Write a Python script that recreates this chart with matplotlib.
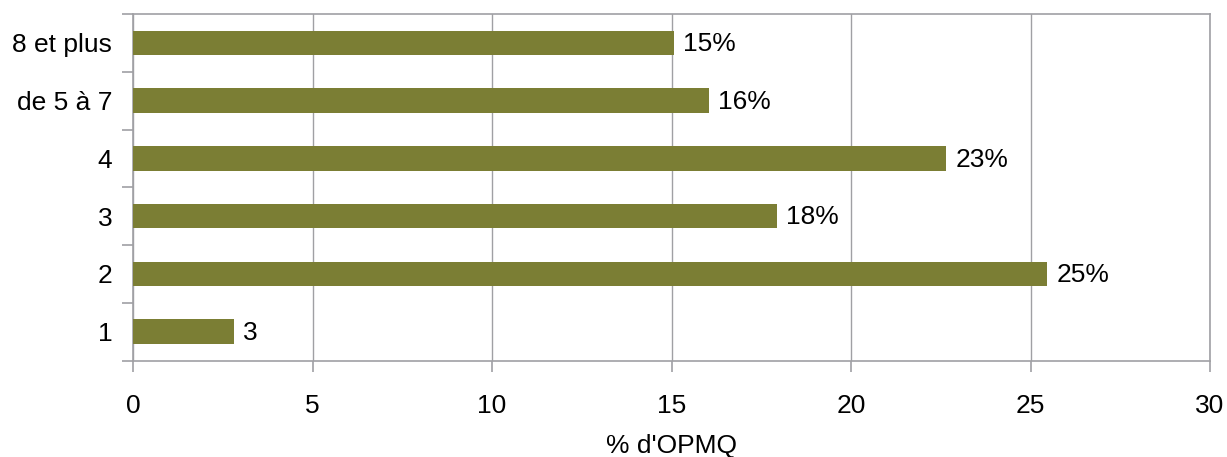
import matplotlib.pyplot as plt
import numpy as np

plt.rcParams["font.family"] = ["Liberation Sans", "DejaVu Sans"]

categories = ["1", "2", "3", "4", "de 5 à 7", "8 et plus"]
values = [2.8, 25.47, 17.95, 22.66, 16.05, 15.08]
bar_labels = ["3", "25%", "18%", "23%", "16%", "15%"]
x_ticks = [0, 5, 10, 15, 20, 25, 30]

BAR_COLOR = "#7b7e34"
AXIS_GRAY = "#a0a0a4"
FS = 19


def main():
    fig = plt.figure(figsize=(12.27, 4.57), dpi=100)
    ax = fig.add_axes([133 / 1227, 1 - 360.5 / 457, (1210 - 133) / 1227, (360.5 - 14) / 457])

    y = np.arange(len(categories))
    ax.barh(y, values, height=0.42, color=BAR_COLOR, zorder=3)
    for yi, v, lab in zip(y, values, bar_labels):
        ax.text(v + 0.25, yi - 0.02, lab, va="center", ha="left", fontsize=FS, zorder=4)

    ax.set_xlim(0, 30)
    ax.set_ylim(-0.5, len(categories) - 0.5)
    ax.set_xticks(x_ticks)
    ax.set_xticklabels([str(t) for t in x_ticks])

    ax.set_yticks(y)
    ax.set_yticklabels(categories)
    ax.set_yticks(np.arange(-0.5, len(categories)), minor=True)
    ax.tick_params(axis="y", which="major", length=0, pad=15, labelsize=FS)
    ax.tick_params(axis="y", which="minor", length=8, width=1.2, color=AXIS_GRAY, direction="out")
    ax.tick_params(axis="x", which="major", length=8, width=1.2, color=AXIS_GRAY,
                   direction="out", pad=16, labelsize=FS)

    ax.grid(axis="x", color=AXIS_GRAY, linewidth=1.0, zorder=0)
    for side in ["left", "right", "top", "bottom"]:
        ax.spines[side].set_color(AXIS_GRAY)
        ax.spines[side].set_linewidth(1.2)

    ax.set_xlabel("% d'OPMQ", fontsize=FS, labelpad=12)

    fig.savefig("out.png", dpi=100)
    plt.close(fig)


if __name__ == "__main__":
    main()
